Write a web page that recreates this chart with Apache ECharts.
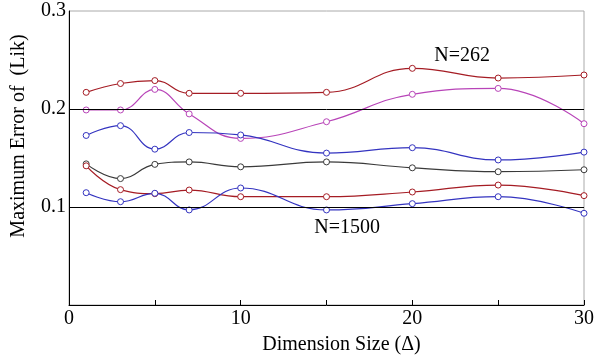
<!DOCTYPE html>
<html><head><meta charset="utf-8">
<script src="https://cdn.jsdelivr.net/npm/echarts@6/dist/echarts.min.js"></script>
<style>html,body{margin:0;padding:0;background:#fff}#c{width:597px;height:363px}</style>
</head><body><div id="c"></div>
<script>
var dims = [1, 3, 5, 7, 10, 15, 20, 25, 30];
var redTop     = [0.217, 0.226, 0.229, 0.216, 0.216, 0.217, 0.2415, 0.2316, 0.2347];
var magenta    = [0.199, 0.199, 0.220, 0.195, 0.170, 0.187, 0.215, 0.221, 0.185];
var blueTop    = [0.173, 0.183, 0.159, 0.176, 0.1735, 0.155, 0.1605, 0.148, 0.156];
var blackMid   = [0.144, 0.129, 0.1435, 0.146, 0.141, 0.146, 0.140, 0.136, 0.138];
var redLow     = [0.142, 0.1177, 0.1136, 0.1173, 0.1105, 0.1105, 0.1153, 0.1224, 0.1116];
var blueLow    = [0.1146, 0.1054, 0.114, 0.097, 0.1194, 0.097, 0.1034, 0.1105, 0.0936];
var refLines = [0.1, 0.2];
var notes = [{text: 'N=262', x: 22.9, y: 0.254}, {text: 'N=1500', x: 16.2, y: 0.0786}];

var FONT = "'Liberation Serif','Times New Roman',serif";
function pairs(v){ return dims.map(function(d,i){ return [d, v[i]]; }); }
function mk(name, data, color){
  return {
    name: name, type: 'line', data: pairs(data), smooth: 0.45,
    symbol: 'circle', symbolSize: 6, showSymbol: true,
    itemStyle: {color: '#fff', borderColor: color, borderWidth: 1},
    lineStyle: {color: color, width: 1.2},
    z: 3
  };
}
var series = [
  mk('r1', redTop, '#a51c24'),
  mk('m', magenta, '#b844b8'),
  mk('b1', blueTop, '#3434c0'),
  mk('k', blackMid, '#3a3a3a'),
  mk('r2', redLow, '#a51c24'),
  mk('b2', blueLow, '#3434c0')
];
series[0].markLine = {
  silent: true, symbol: ['none','none'], label: {show: false},
  lineStyle: {color: '#000', width: 1, type: 'solid'},
  data: refLines.map(function(v){ return {yAxis: v}; })
};
series[0].markPoint = {
  silent: true, symbol: 'rect', symbolSize: 1,
  itemStyle: {color: 'rgba(0,0,0,0)', borderWidth: 0},
  label: {show: true, position: 'inside', formatter: '{b}', color: '#000', fontFamily: FONT, fontSize: 20},
  data: notes.map(function(n){ return {name: n.text, coord: [n.x, n.y]}; })
};
var chart = echarts.init(document.getElementById('c'), null, {renderer: 'canvas'});
chart.setOption({
  animation: false,
  backgroundColor: '#fff',
  grid: {left: 69, right: 9, top: 11, bottom: 58, show: true, borderColor: '#aaa', borderWidth: 1},
  xAxis: {
    type: 'value', min: 0, max: 30, interval: 5,
    axisLine: {lineStyle: {color: '#000', width: 1}},
    axisTick: {show: true, inside: true, length: 5, lineStyle: {color: '#000'}},
    splitLine: {show: false},
    axisLabel: {color: '#000', fontFamily: FONT, fontSize: 20, margin: 4,
      formatter: function(v){ return v % 10 === 0 ? String(v) : ''; }},
    name: 'Dimension Size (Δ)', nameLocation: 'middle', nameGap: 30,
    nameTextStyle: {color: '#000', fontFamily: FONT, fontSize: 20, padding: [0,0,0,30]}
  },
  yAxis: {
    type: 'value', min: 0, max: 0.3, interval: 0.1,
    axisLine: {show: true, lineStyle: {color: '#000', width: 1}},
    axisTick: {show: false},
    splitLine: {show: false},
    axisLabel: {color: '#000', fontFamily: FONT, fontSize: 20, margin: 3,
      formatter: function(v){ return v === 0 ? '' : v.toFixed(1); }},
    name: 'Maximum Error of  (Lik)', nameLocation: 'middle', nameGap: 40,
    nameTextStyle: {color: '#000', fontFamily: FONT, fontSize: 20, padding: [0,0,0,44]}
  },
  series: series
});
</script></body></html>
